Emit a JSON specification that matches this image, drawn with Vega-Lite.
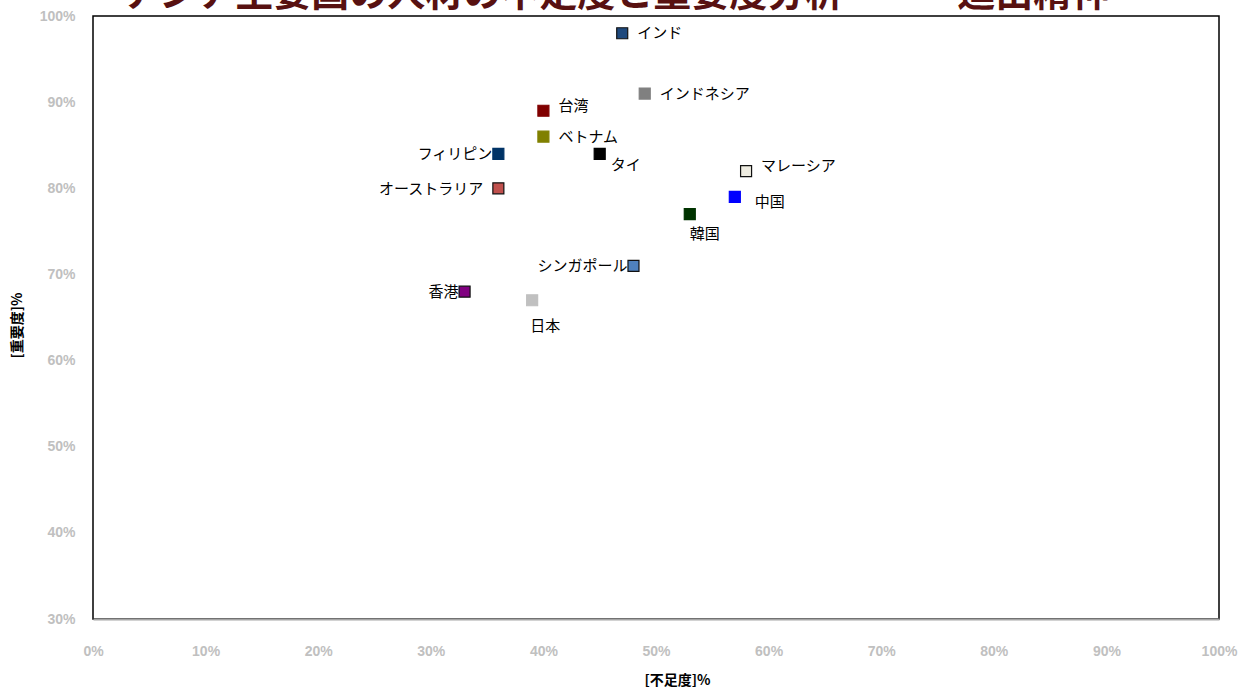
{
  "$schema": "https://vega.github.io/schema/vega-lite/v6.json",
  "width": 1126,
  "height": 603,
  "autosize": {"type": "none"},
  "padding": {"left": 93, "top": 16, "right": 34, "bottom": 71},
  "background": "#ffffff",
  "title": {
    "text": "アジア主要国の人材の不足度と重要度分析　―　進出精神",
    "color": "#581111",
    "font": "Noto Sans CJK JP",
    "fontSize": 38,
    "fontWeight": "bold",
    "anchor": "middle",
    "frame": "group",
    "baseline": "alphabetic",
    "offset": -35,
    "dx": -40
  },
  "config": {
    "view": {"stroke": "#000000", "strokeWidth": 1.5},
    "axis": {"grid": false, "ticks": false}
  },
  "data": {
    "values": [
      {"country": "インド", "shortage": 47, "importance": 98},
      {"country": "インドネシア", "shortage": 49, "importance": 91},
      {"country": "台湾", "shortage": 40, "importance": 89},
      {"country": "ベトナム", "shortage": 40, "importance": 86},
      {"country": "フィリピン", "shortage": 36, "importance": 84},
      {"country": "タイ", "shortage": 45, "importance": 84},
      {"country": "マレーシア", "shortage": 58, "importance": 82},
      {"country": "中国", "shortage": 57, "importance": 79},
      {"country": "オーストラリア", "shortage": 36, "importance": 80},
      {"country": "韓国", "shortage": 53, "importance": 77},
      {"country": "シンガポール", "shortage": 48, "importance": 71},
      {"country": "香港", "shortage": 33, "importance": 68},
      {"country": "日本", "shortage": 39, "importance": 67}
    ]
  },
  "encoding": {
    "x": {
      "field": "shortage",
      "type": "quantitative",
      "scale": {"domain": [0, 100], "nice": false},
      "axis": {
        "values": [0, 10, 20, 30, 40, 50, 60, 70, 80, 90, 100],
        "labelExpr": "datum.value + '%'",
        "labelColor": "#c0c0c0",
        "labelFont": "Liberation Sans",
        "labelFontWeight": "bold",
        "labelFontSize": 14,
        "labelPadding": 25,
        "labelFlush": false,
        "labelOverlap": false,
        "domainColor": "#a6a6a6",
        "domainWidth": 2,
        "title": "[不足度]%",
        "titleFont": "Noto Sans CJK JP",
        "titleFontSize": 14,
        "titleFontWeight": "bold",
        "titleColor": "#000000",
        "titleX": 584,
        "titleY": 65,
        "titleAlign": "center",
        "titleBaseline": "alphabetic"
      }
    },
    "y": {
      "field": "importance",
      "type": "quantitative",
      "scale": {"domain": [30, 100], "nice": false, "zero": false},
      "axis": {
        "values": [30, 40, 50, 60, 70, 80, 90, 100],
        "labelExpr": "datum.value + '%'",
        "labelColor": "#c0c0c0",
        "labelFont": "Liberation Sans",
        "labelFontWeight": "bold",
        "labelFontSize": 14,
        "labelPadding": 18,
        "labelFlush": false,
        "labelOverlap": false,
        "domain": false,
        "title": "[重要度]%",
        "titleFont": "Noto Sans CJK JP",
        "titleFontSize": 14,
        "titleFontWeight": "bold",
        "titleColor": "#000000",
        "titleX": -76,
        "titleY": 309,
        "titleAngle": 270,
        "titleAlign": "center",
        "titleBaseline": "middle"
      }
    }
  },
  "layer": [
    {
      "mark": {"type": "point", "shape": "square", "filled": true, "size": 121, "strokeWidth": 1.2, "opacity": 1},
      "encoding": {
        "fill": {
          "field": "country",
          "type": "nominal",
          "legend": null,
          "scale": {
            "domain": ["インド", "インドネシア", "台湾", "ベトナム", "フィリピン", "タイ", "マレーシア", "中国", "オーストラリア", "韓国", "シンガポール", "香港", "日本"],
            "range": ["#1F497D", "#808080", "#800000", "#808000", "#003366", "#000000", "#EEECE1", "#0000FF", "#C0504D", "#003300", "#4F81BD", "#800080", "#C0C0C0"]
          }
        },
        "stroke": {
          "field": "country",
          "type": "nominal",
          "legend": null,
          "scale": {
            "domain": ["インド", "インドネシア", "台湾", "ベトナム", "フィリピン", "タイ", "マレーシア", "中国", "オーストラリア", "韓国", "シンガポール", "香港", "日本"],
            "range": ["#111111", "#808080", "#800000", "#808000", "#003366", "#000000", "#111111", "#0000FF", "#111111", "#003300", "#111111", "#111111", "#C0C0C0"]
          }
        }
      }
    },
    {
      "transform": [{"filter": {"field": "country", "oneOf": ["インド", "インドネシア", "ベトナム"]}}],
      "mark": {"type": "text", "align": "left", "baseline": "middle", "dx": 15, "dy": 0, "font": "Noto Sans CJK JP", "fontSize": 15, "color": "#000000"},
      "encoding": {"text": {"field": "country"}}
    },
    {
      "transform": [{"filter": {"field": "country", "oneOf": ["台湾", "マレーシア"]}}],
      "mark": {"type": "text", "align": "left", "baseline": "middle", "dx": 15, "dy": -5, "font": "Noto Sans CJK JP", "fontSize": 15, "color": "#000000"},
      "encoding": {"text": {"field": "country"}}
    },
    {
      "transform": [{"filter": {"field": "country", "oneOf": ["中国"]}}],
      "mark": {"type": "text", "align": "left", "baseline": "middle", "dx": 20, "dy": 5, "font": "Noto Sans CJK JP", "fontSize": 15, "color": "#000000"},
      "encoding": {"text": {"field": "country"}}
    },
    {
      "transform": [{"filter": {"field": "country", "oneOf": ["フィリピン", "シンガポール", "香港"]}}],
      "mark": {"type": "text", "align": "right", "baseline": "middle", "dx": -6, "dy": 0, "font": "Noto Sans CJK JP", "fontSize": 15, "color": "#000000"},
      "encoding": {"text": {"field": "country"}}
    },
    {
      "transform": [{"filter": {"field": "country", "oneOf": ["オーストラリア"]}}],
      "mark": {"type": "text", "align": "right", "baseline": "middle", "dx": -15, "dy": 1, "font": "Noto Sans CJK JP", "fontSize": 15, "color": "#000000"},
      "encoding": {"text": {"field": "country"}}
    },
    {
      "transform": [{"filter": {"field": "country", "oneOf": ["タイ"]}}],
      "mark": {"type": "text", "align": "left", "baseline": "middle", "dx": 11, "dy": 11, "font": "Noto Sans CJK JP", "fontSize": 15, "color": "#000000"},
      "encoding": {"text": {"field": "country"}}
    },
    {
      "transform": [{"filter": {"field": "country", "oneOf": ["韓国"]}}],
      "mark": {"type": "text", "align": "left", "baseline": "middle", "dx": 0, "dy": 20, "font": "Noto Sans CJK JP", "fontSize": 15, "color": "#000000"},
      "encoding": {"text": {"field": "country"}}
    },
    {
      "transform": [{"filter": {"field": "country", "oneOf": ["日本"]}}],
      "mark": {"type": "text", "align": "left", "baseline": "middle", "dx": -2, "dy": 26, "font": "Noto Sans CJK JP", "fontSize": 15, "color": "#000000"},
      "encoding": {"text": {"field": "country"}}
    }
  ]
}
